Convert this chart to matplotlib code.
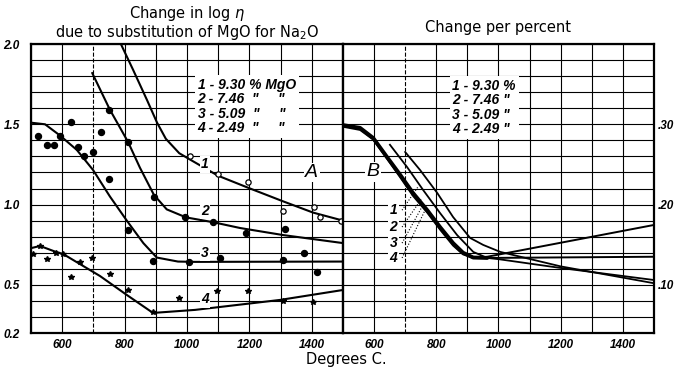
import numpy as np
import matplotlib.pyplot as plt

# left panel: change in log eta, read per composition
c1_line_t = [788, 827, 872, 904, 932, 975, 1010, 1099, 1202, 1308, 1404, 1500]
c1_line_v = [2.0, 1.84, 1.65, 1.51, 1.41, 1.32, 1.28, 1.18, 1.10, 1.02, 0.95, 0.90]
c1_pts_t = [1010, 1099, 1196, 1308, 1407, 1426, 1495]
c1_pts_v = [1.30, 1.19, 1.14, 0.96, 0.985, 0.92, 0.90]

c2_line_t = [696, 753, 811, 849, 894, 935, 997, 1084, 1170, 1308, 1500]
c2_line_v = [1.82, 1.59, 1.39, 1.23, 1.06, 0.97, 0.92, 0.89, 0.854, 0.81, 0.76]
c2_pts_t = [751, 812, 895, 995, 1084, 1189, 1315]
c2_pts_v = [1.59, 1.39, 1.05, 0.92, 0.89, 0.82, 0.85]

c3_line_t = [500, 545, 593, 647, 699, 753, 807, 860, 903, 971, 1026, 1500]
c3_line_v = [1.51, 1.50, 1.43, 1.34, 1.215, 1.05, 0.90, 0.76, 0.67, 0.645, 0.643, 0.645]
c3_pts_t = [523, 551, 574, 593, 628, 651, 670, 699, 724, 750, 811, 892, 1006, 1106, 1308, 1375, 1417]
c3_pts_v = [1.43, 1.37, 1.37, 1.43, 1.515, 1.36, 1.30, 1.33, 1.45, 1.16, 0.84, 0.65, 0.64, 0.67, 0.655, 0.70, 0.58]

c4_line_t = [503, 529, 580, 603, 721, 807, 891, 1026, 1298, 1500]
c4_line_v = [0.73, 0.742, 0.705, 0.692, 0.555, 0.437, 0.325, 0.344, 0.406, 0.468]
c4_pts_t = [505, 529, 551, 580, 603, 628, 657, 695, 753, 811, 891, 974, 1096, 1196, 1308, 1404]
c4_pts_v = [0.69, 0.74, 0.66, 0.70, 0.69, 0.55, 0.64, 0.67, 0.57, 0.47, 0.33, 0.42, 0.46, 0.46, 0.40, 0.39]

# right panel: change per percent MgO
r1_t = [700, 748, 803, 854, 909, 951, 1006, 1200, 1500]
r1_v = [0.2655, 0.243, 0.2145, 0.1845, 0.1584, 0.1497, 0.141, 0.123, 0.102]
r2_t = [651, 706, 758, 812, 867, 919, 964, 1000, 1200, 1500]
r2_v = [0.2745, 0.2468, 0.218, 0.1895, 0.162, 0.141, 0.1335, 0.132, 0.121, 0.106]
r3_t = [500, 555, 597, 642, 684, 725, 771, 812, 854, 886, 919, 964, 1500]
r3_v = [0.299, 0.2955, 0.283, 0.259, 0.237, 0.2145, 0.193, 0.172, 0.152, 0.140, 0.134, 0.1335, 0.135]
r4_t = [500, 555, 597, 642, 684, 725, 771, 812, 854, 886, 919, 964, 1500]
r4_v = [0.297, 0.293, 0.281, 0.257, 0.234, 0.211, 0.190, 0.169, 0.149, 0.138, 0.1335, 0.135, 0.1746]

legend_left = '1 - 9.30 % MgO\n2 - 7.46  "     "\n3 - 5.09  "     "\n4 - 2.49  "     "'
legend_right = '1 - 9.30 %\n2 - 7.46 "\n3 - 5.09 "\n4 - 2.49 "'

x_grid = np.arange(500, 1501, 100)
x_labels = ['600', '800', '1000', '1200', '1400']
left_labels = {0.2: '0.2', 0.5: '0.5', 1.0: '1.0', 1.5: '1.5', 2.0: '2.0'}
right_labels = {0.10: '.10', 0.20: '.20', 0.30: '.30'}

tick_font = dict(family='Liberation Sans', style='italic', weight='bold', size=8.5)
note_font = dict(family='Liberation Sans', style='italic', weight='bold', size=10)

fig = plt.figure(figsize=(6.77, 3.68), dpi=100)
ax1 = fig.add_axes([0.0458, 0.0951, 0.4609, 0.7853])
ax2 = fig.add_axes([0.5066, 0.0951, 0.4594, 0.7853])


def setup(ax, ylo, yhi, ystep, labels, side):
    ax.set_xlim(500, 1500)
    ax.set_ylim(ylo, yhi)
    for t in x_grid:
        ax.axvline(t, color='black', lw=0.8, ls='--' if t == 700 else '-', zorder=1)
    y_grid = np.arange(ylo, yhi + ystep / 2, ystep)
    for v in y_grid:
        ax.axhline(v, color='black', lw=0.8, zorder=1)
    ax.set_xticks([int(s) for s in x_labels])
    ax.set_xticklabels(x_labels, fontdict=tick_font)
    ax.set_yticks(list(labels.keys()))
    ax.set_yticklabels(list(labels.values()), fontdict=tick_font)
    ax.tick_params(length=0, pad=4)
    if side == 'right':
        ax.yaxis.tick_right()
        ax.tick_params(axis='y', pad=3)
    else:
        ax.tick_params(axis='y', pad=8)
    for s in ax.spines.values():
        s.set_linewidth(1.6)


setup(ax1, 0.2, 2.0, 0.1, left_labels, 'left')
setup(ax2, 0.04, 0.40, 0.02, right_labels, 'right')

lk = dict(color='black', lw=1.5, zorder=3, solid_capstyle='round')
ax1.plot(c1_line_t, c1_line_v, **lk)
ax1.plot(c2_line_t, c2_line_v, **lk)
ax1.plot(c3_line_t, c3_line_v, **lk)
ax1.plot(c4_line_t, c4_line_v, **lk)
ax1.plot(c1_pts_t, c1_pts_v, 'o', ms=3.8, mfc='white', mec='black', mew=0.9, zorder=4)
ax1.plot(c2_pts_t, c2_pts_v, 'o', ms=4.3, color='black', zorder=4)
ax1.plot(c3_pts_t, c3_pts_v, 'o', ms=4.3, color='black', zorder=4)
ax1.plot(c4_pts_t, c4_pts_v, '*', ms=4.2, color='black', zorder=4)

white = dict(facecolor='white', edgecolor='none', pad=1.0)
for lab, t, v in [('1', 1058, 1.25), ('2', 1058, 0.96), ('3', 1058, 0.70), ('4', 1058, 0.41)]:
    ax1.text(t, v, lab, ha='center', va='center', bbox=white, zorder=5, **note_font)
ax1.text(1400, 1.20, 'A', ha='center', va='center', family='Liberation Sans', style='italic',
         size=14, bbox=white, zorder=5)
ax1.text(1034, 1.79, legend_left, ha='left', va='top', linespacing=1.05, zorder=5,
         bbox=dict(facecolor='white', edgecolor='none', pad=2.0), **note_font)

# curves 3 and 4 share one heavy stroke down the steep part, then run thin
ax2.plot(r1_t, r1_v, color='black', lw=1.3, zorder=3)
ax2.plot(r2_t, r2_v, color='black', lw=1.3, zorder=3)
ax2.plot(r3_t[:12], r3_v[:12], color='black', lw=2.8, zorder=3, solid_capstyle='round')
ax2.plot(r3_t[11:], r3_v[11:], color='black', lw=1.4, zorder=3)
ax2.plot(r4_t, r4_v, color='black', lw=1.4, zorder=3)
ax2.text(597, 0.241, 'B', ha='center', va='center', family='Liberation Sans', style='italic',
         size=14, bbox=white, zorder=5)
ax2.text(852, 0.357, legend_right, ha='left', va='top', linespacing=1.05, zorder=5,
         bbox=dict(facecolor='white', edgecolor='none', pad=2.0), **note_font)

# numbered leaders pointing into the bundle of curves
leaders = [('1', 0.193, 741, 0.222), ('2', 0.172, 754, 0.208),
           ('3', 0.152, 758, 0.200), ('4', 0.1335, 764, 0.193)]
for lab, v, tx, tv in leaders:
    ax2.text(675, v, lab, ha='right', va='center', bbox=white, zorder=5, **note_font)
    ax2.plot([690, tx], [v, tv], color='black', lw=0.8, ls=':', zorder=4)

fig.text(0.277, 0.962, 'Change in log $\\eta$', ha='center', va='center', size=10.5)
fig.text(0.277, 0.913, 'due to substitution of MgO for Na$_2$O', ha='center', va='center', size=10.5)
fig.text(0.7356, 0.924, 'Change per percent', ha='center', va='center', size=10.5)
fig.text(0.511, 0.022, 'Degrees C.', ha='center', va='center', size=10.5)

fig.savefig('out.png', dpi=100)
